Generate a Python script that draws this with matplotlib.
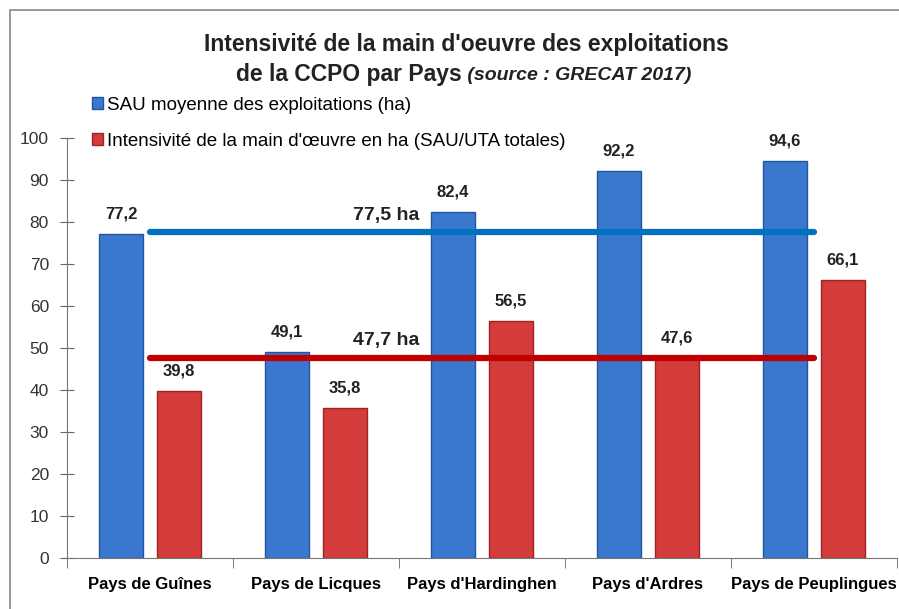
import matplotlib.pyplot as plt
import matplotlib.patches as mpatches
import numpy as np

# ── données ─────────────────────────────────────────────
pays = ["Pays de Guînes", "Pays de Licques", "Pays d'Hardinghen",
        "Pays d'Ardres", "Pays de Peuplingues"]
sau_moyenne = [77.2, 49.1, 82.4, 92.2, 94.6]
intensite = [39.8, 35.8, 56.5, 47.6, 66.1]
moy_sau = 77.5
moy_int = 47.7

BLEU = "#3a78cf"
BLEU_BORD = "#24559c"
ROUGE = "#d43b3b"
ROUGE_BORD = "#9e2424"

plt.rcParams['font.family'] = ['Liberation Sans', 'DejaVu Sans']

fig = plt.figure(figsize=(8.99, 6.09), dpi=100)
ax = fig.add_axes([67 / 899, 1 - 558 / 609, 830 / 899, 420 / 609])

x = np.arange(len(pays))
w = 0.27
off = 0.175
ax.bar(x - off, sau_moyenne, width=w, color=BLEU, edgecolor=BLEU_BORD, linewidth=1.0, zorder=2)
ax.bar(x + off, intensite, width=w, color=ROUGE, edgecolor=ROUGE_BORD, linewidth=1.0, zorder=2)

for xi, v in zip(x, sau_moyenne):
    ax.text(xi - off, v + 3.0, f"{v:.1f}".replace(".", ","), ha="center", va="bottom",
            fontsize=12, fontweight="bold", color="#222222")
for xi, v in zip(x, intensite):
    ax.text(xi + off, v + 3.0, f"{v:.1f}".replace(".", ","), ha="center", va="bottom",
            fontsize=12, fontweight="bold", color="#222222")

# lignes de moyenne
ax.plot([0, 4], [moy_sau, moy_sau], color="#0070c0", linewidth=4.5, solid_capstyle="round", zorder=3)
ax.plot([0, 4], [moy_int, moy_int], color="#c00000", linewidth=4.5, solid_capstyle="round", zorder=3)
ax.text(1.42, moy_sau + 2.0, "77,5 ha", ha="center", va="bottom", fontsize=14,
        fontweight="bold", color="#222222")
ax.text(1.42, moy_int + 2.0, "47,7 ha", ha="center", va="bottom", fontsize=14,
        fontweight="bold", color="#222222")

ax.set_xlim(-0.5, 4.5)
ax.set_ylim(0, 100)
ax.set_yticks(range(0, 101, 10))
ax.set_xticks(x)
ax.set_xticklabels(pays, fontsize=12, fontweight="bold")
ax.set_xticks(np.arange(-0.5, 4.6, 1), minor=True)
ax.tick_params(axis="x", which="major", length=0, pad=14)
ax.tick_params(axis="x", which="minor", length=7, direction="out", color="#666666")
ax.tick_params(axis="y", direction="inout", length=10, color="#666666", labelsize=12.5, pad=8)
for lab in ax.get_yticklabels():
    lab.set_color("#333333")
for s in ["top", "right"]:
    ax.spines[s].set_visible(False)
for s in ["left", "bottom"]:
    ax.spines[s].set_color("#777777")

# titre
fig.text(466 / 899, 1 - 45 / 609, "Intensivité de la main d'oeuvre des exploitations",
         ha="center", va="center", fontsize=16.5, fontweight="bold", color="#222222")
fig.text(462 / 899, 1 - 75 / 609, "de la CCPO par Pays", ha="right", va="center",
         fontsize=16.5, fontweight="bold", color="#222222")
fig.text(462 / 899, 1 - 75 / 609, " (source : GRECAT 2017)", ha="left", va="center",
         fontsize=14, fontstyle="italic", fontweight="bold", color="#222222")

# légende
leg = fig.legend(handles=[mpatches.Patch(facecolor=BLEU, edgecolor=BLEU_BORD,
                                         label="SAU moyenne des exploitations (ha)"),
                          mpatches.Patch(facecolor=ROUGE, edgecolor=ROUGE_BORD,
                                         label="Intensivité de la main d'œuvre en ha (SAU/UTA totales)")],
                 loc="upper left", bbox_to_anchor=(92 / 899, 1 - 97 / 609), frameon=False,
                 fontsize=13.5, handlelength=0.6, handleheight=0.6, handletextpad=0.2,
                 labelspacing=1.0, borderpad=0, borderaxespad=0)

# cadre extérieur
fig.patches.append(mpatches.Rectangle((10 / 899, -0.01), 1.0, 1 - 10 / 609 + 0.01,
                                      transform=fig.transFigure, fill=False,
                                      edgecolor="#888888", linewidth=1.2))

fig.savefig("out.png", dpi=100)
